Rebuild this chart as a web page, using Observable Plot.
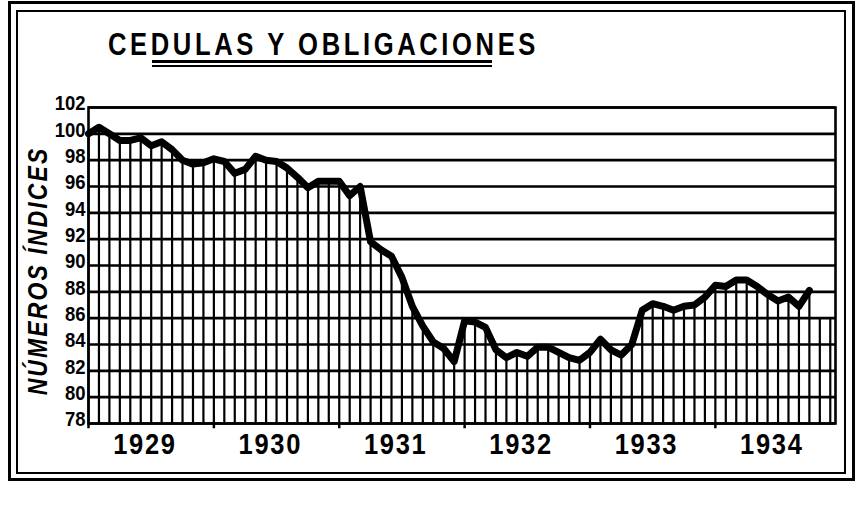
<!DOCTYPE html>
<html>
<head>
<meta charset="utf-8">
<script src="https://cdn.jsdelivr.net/npm/d3@7"></script>
<script src="https://cdn.jsdelivr.net/npm/@observablehq/plot@0.6"></script>
<style>
  html, body { margin: 0; padding: 0; background: #fff; }
  #wrap { position: relative; width: 862px; height: 505px; overflow: hidden; background: #fff; }
  #wrap svg { position: absolute; left: 0; top: 0; }
  .cond { font-family: "Liberation Sans", Arial, sans-serif; font-weight: bold; color: #000; }
  #outer { position: absolute; left: 8px; top: 1px; width: 841px; height: 474px; border: 3px solid #000; }
  #inner { position: absolute; left: 16px; top: 10px; width: 826px; height: 460px; border: 2px solid #000; }
  #title { position: absolute; left: 108px; top: 24px; font-size: 32px; line-height: 40px; letter-spacing: 4.5px; white-space: nowrap; transform: scaleX(0.8); transform-origin: 0 0; }
  .ul { position: absolute; left: 152px; width: 340px; background: #000; }
  #ylab { position: absolute; left: 38px; top: 271px; transform: translate(-50%, -50%) rotate(-90deg) scaleX(0.85); font-size: 27px; font-style: italic; letter-spacing: 2.5px; white-space: nowrap; }
</style>
</head>
<body>
<div id="wrap">
  <div id="outer"></div>
  <div id="inner"></div>
  <div id="title" class="cond">CEDULAS Y OBLIGACIONES</div>
  <div class="ul" style="top:60px;height:3px"></div>
  <div class="ul" style="top:65px;height:2px"></div>
  <div id="ylab" class="cond">NÚMEROS ÍNDICES</div>
</div>
<script>
// Monthly index values, Jan 1929 (month 0) to Oct 1934
const values1929 = [100.0, 100.5, 100.0, 99.5, 99.5, 99.7, 99.1, 99.4, 98.8, 98.0, 97.7, 97.8];
const values1930 = [98.1, 97.9, 97.0, 97.3, 98.3, 98.0, 97.9, 97.4, 96.7, 95.9, 96.4, 96.4];
const values1931 = [96.4, 95.3, 96.0, 91.8, 91.2, 90.7, 89.1, 86.9, 85.4, 84.2, 83.7, 82.7];
const values1932 = [85.8, 85.7, 85.3, 83.6, 83.0, 83.4, 83.1, 83.8, 83.8, 83.4, 83.0, 82.8];
const values1933 = [83.4, 84.4, 83.6, 83.2, 84.0, 86.6, 87.1, 86.9, 86.6, 86.9, 87.0, 87.6];
const values1934 = [88.5, 88.4, 88.9, 88.9, 88.4, 87.8, 87.3, 87.6, 86.9, 88.1];
const years = ["1929", "1930", "1931", "1932", "1933", "1934"];
const yTicks = [78, 80, 82, 84, 86, 88, 90, 92, 94, 96, 98, 100, 102];
// hatch strokes drawn past the end of the series, up to this index level
const tailMonths = [70, 71];
const tailLevel = 86;

const values = [...values1929, ...values1930, ...values1931, ...values1932, ...values1933, ...values1934];
const data = values.map((v, i) => ({i, v}));
const tail = tailMonths.map(i => ({i, v: tailLevel}));
const yearBounds = years.map((y, k) => k * 12).concat([years.length * 12]);
const yearLabels = years.map((y, k) => ({x: k * 12 + 5.4, y}));

const chart = Plot.plot({
  width: 862,
  height: 505,
  marginLeft: 88,
  marginRight: 27,
  marginTop: 107,
  marginBottom: 82,
  style: {background: "transparent", fontFamily: "'Liberation Sans', Arial, sans-serif", fontWeight: "bold", color: "#000"},
  x: {domain: [0, 71.5], axis: null},
  y: {domain: [78, 102], axis: null},
  marks: [
    Plot.ruleX(data, {x: "i", y1: 78, y2: "v", stroke: "#000", strokeWidth: 2.2}),
    Plot.ruleX(tail, {x: "i", y1: 78, y2: "v", stroke: "#000", strokeWidth: 2.2}),
    Plot.ruleY(yTicks, {stroke: "#000", strokeWidth: 2.6}),
    Plot.frame({stroke: "#000", strokeWidth: 2.6}),
    Plot.ruleX(yearBounds.filter(d => d <= 71.5), {x: d => d, y1: 78, y2: 77.6, stroke: "#000", strokeWidth: 2.5}),
    Plot.line(data, {x: "i", y: "v", stroke: "#000", strokeWidth: 7, strokeLinejoin: "round", strokeLinecap: "round"}),
    Plot.text(yTicks, {frameAnchor: "left", y: d => d, text: d => String(d), textAnchor: "end", dx: -3, dy: -4, fontSize: 21, fill: "#000"}),
    Plot.text(yearLabels, {x: "x", y: () => 78, text: "y", dy: 21, fontSize: 30, fill: "#000"})
  ]
});
// narrow the glyphs horizontally (condensed look), keeping each label anchored
chart.querySelectorAll("text").forEach(t => {
  const fs = +(t.closest("[font-size]")?.getAttribute("font-size") || 0);
  const isYear = fs >= 28;
  if (isYear) t.style.letterSpacing = "2px";
  const s = isYear ? 0.85 : 0.88;
  let tr = t.getAttribute("transform");
  if (!tr) {
    const x = +(t.getAttribute("x") || 0), y = +(t.getAttribute("y") || 0);
    t.removeAttribute("x"); t.removeAttribute("y");
    tr = `translate(${x},${y})`;
  }
  t.setAttribute("transform", `${tr} scale(${s},1)`);
});
document.getElementById("wrap").prepend(chart);
</script>
</body>
</html>
